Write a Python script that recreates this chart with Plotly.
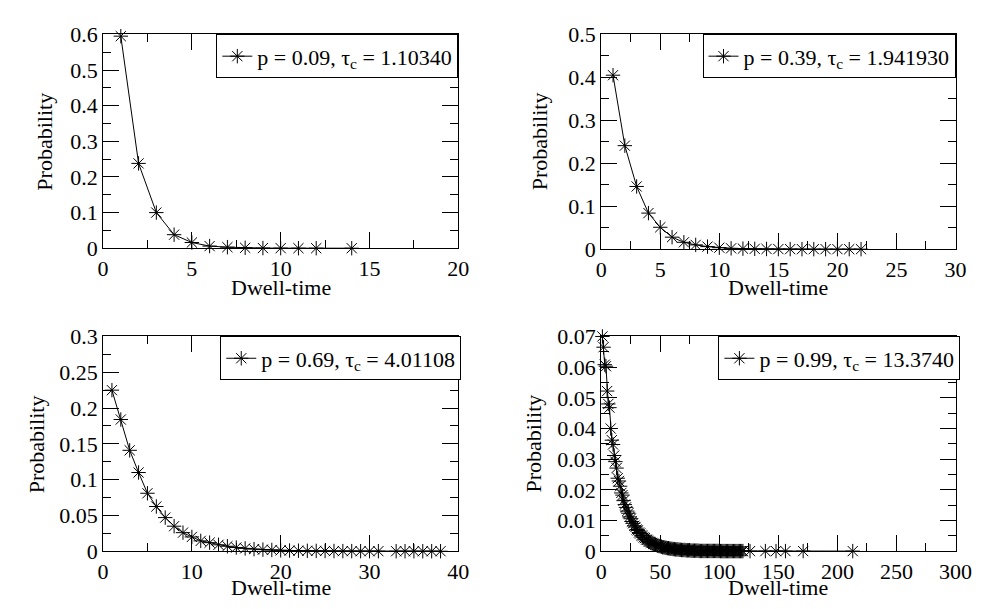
import plotly.graph_objects as go

# panel 1: p = 0.09
p1_x = [1, 2, 3, 4, 5, 6, 7, 8, 9, 10, 11, 12, 14]
p1_y = [0.595, 0.238, 0.100, 0.038, 0.016, 0.006, 0.003, 0.0012, 0.0005, 0.0002, 0.0001, 0.0001, 0.00005]

# panel 2: p = 0.39
p2_x = list(range(1, 23))
p2_y = [0.405, 0.241, 0.146, 0.084, 0.051, 0.028, 0.016, 0.010, 0.006, 0.0035, 0.002,
        0.0013, 0.0008, 0.0005, 0.0003, 0.0002, 0.0001, 0.0001, 0.0001, 0.00005, 0.00005, 0.00005]

# panel 3: p = 0.69
p3_x = list(range(1, 32)) + [33, 34, 35, 36, 37, 38]
p3_y = [0.225, 0.184, 0.141, 0.110, 0.081, 0.0625, 0.047, 0.035, 0.026, 0.020,
        0.0145, 0.012, 0.009, 0.007, 0.0052, 0.004, 0.003, 0.0023, 0.0018, 0.0013,
        0.001, 0.0008, 0.0006, 0.0005, 0.0004, 0.0003, 0.0002, 0.0002, 0.0001, 0.0001,
        0.0001, 0.00005, 0.00005, 0.00005, 0.00005, 0.00005, 0.00005]

# panel 4: p = 0.99
p4_x = list(range(1, 121)) + [126, 139, 148, 156, 171, 213]
p4_y = [0.0700, 0.0665, 0.0608, 0.0603, 0.0522, 0.0480, 0.0468, 0.0400, 0.0362, 0.0348,
        0.0312, 0.0292, 0.0271, 0.0238, 0.0229, 0.0212, 0.0190, 0.0183, 0.0165, 0.0152,
        0.0143, 0.0131, 0.0124, 0.0112, 0.0106, 0.0097, 0.0091, 0.0083, 0.0079, 0.0071,
        0.0068, 0.0061, 0.0058, 0.0052, 0.0050, 0.0045, 0.0043, 0.0038, 0.0037, 0.0033,
        0.0031, 0.0028, 0.0027, 0.0024, 0.0023, 0.0021, 0.0020, 0.0018, 0.0017, 0.0016,
        0.0015, 0.0013, 0.0013, 0.0012, 0.0011, 0.0010, 0.0010, 0.0009, 0.0008, 0.0008,
        0.0007, 0.0007, 0.0006, 0.0006, 0.0006, 0.0005, 0.0005, 0.0004, 0.0004, 0.0004,
        0.0004, 0.0003, 0.0003, 0.0003, 0.0003, 0.0002, 0.0002, 0.0002, 0.0002, 0.0002,
        0.0002, 0.0002, 0.0001, 0.0001, 0.0001, 0.0001, 0.0001, 0.0001, 0.0001, 0.0001,
        0.0001, 0.0001, 0.0001, 0.0001, 0.0001, 0.0001, 0.0001, 0.0001, 0.0001, 0.0001,
        0.00005, 0.00005, 0.00005, 0.00005, 0.00005, 0.00005, 0.00005, 0.00005, 0.00005, 0.00005,
        0.00005, 0.00005, 0.00005, 0.00005, 0.00005, 0.00005, 0.00005, 0.00005, 0.00005, 0.00005,
        0.00005, 0.00005, 0.00005, 0.00005, 0.00005, 0.00005]

labels = ["p = 0.09, τ<sub>c</sub> = 1.10340",
          "p = 0.39, τ<sub>c</sub> = 1.941930",
          "p = 0.69, τ<sub>c</sub> = 4.01108",
          "p = 0.99, τ<sub>c</sub> = 13.3740"]

FONT = "Liberation Serif"
W, H = 987, 609

# plot boxes in pixels: (left, right, top, bottom)
boxes = [(92, 455, 15, 238), (601, 963, 15, 239), (92, 455, 330, 554), (601, 963, 330, 554)]
xranges = [(0, 20, 5), (0, 30, 5), (0, 40, 10), (0, 300, 50)]
yranges = [(0, 0.6, 0.1), (0, 0.5, 0.1), (0, 0.3, 0.05), (0, 0.07, 0.01)]
legend_right = [455, 963, 458, 968]
# axis title positions in pixels: x-title baseline row, y-title column
xtitle_y = [279, 279, 592, 592]
ytitle_x = [32, 538, 24, 532]

data = [(p1_x, p1_y), (p2_x, p2_y), (p3_x, p3_y), (p4_x, p4_y)]

fig = go.Figure()
layout = dict(width=W, height=H, margin=dict(l=0, r=0, t=0, b=0),
              paper_bgcolor="white", plot_bgcolor="white")
annotations = []

for i, (xs, ys) in enumerate(data):
    n = "" if i == 0 else str(i + 1)
    fig.add_trace(go.Scatter(
        x=xs, y=ys, mode="lines+markers", name=labels[i], showlegend=True,
        xaxis="x" + n, yaxis="y" + n, legend="legend" + n, cliponaxis=False,
        line=dict(color="black", width=1),
        marker=dict(symbol="asterisk-open", size=12, color="black",
                    line=dict(color="black", width=1)),
    ))
    l, r, t, b = boxes[i]
    x0, x1, dx = xranges[i]
    y0, y1, dy = yranges[i]
    ax = dict(showline=True, linecolor="black", mirror="ticks", ticks="inside", ticklen=16,
              tickcolor="black", showgrid=False, zeroline=False,
              tickfont=dict(family=FONT, size=22, color="black"))
    layout["xaxis" + n] = dict(
        ax, domain=[l / W, r / W], anchor="y" + n, range=[x0, x1], dtick=dx, tick0=0,
        minor=dict(ticks="inside", ticklen=8, dtick=dx / 2),
    )
    layout["yaxis" + n] = dict(
        ax, domain=[1 - b / H, 1 - t / H], anchor="x" + n, range=[y0, y1], dtick=dy, tick0=0,
        minor=dict(ticks="inside", ticklen=8, dtick=dy / 2),
    )
    layout["legend" + n] = dict(
        x=legend_right[i] / W, xanchor="right", y=1 - t / H, yanchor="top",
        bordercolor="black", borderwidth=1,
        font=dict(family=FONT, size=22, color="black"),
    )
    annotations.append(dict(
        text="Dwell-time", xref="paper", yref="paper",
        x=(l + r) / 2 / W, y=1 - xtitle_y[i] / H, xanchor="center", yanchor="middle",
        showarrow=False, font=dict(family=FONT, size=22, color="black"),
    ))
    annotations.append(dict(
        text="Probability", xref="paper", yref="paper", textangle=-90,
        x=ytitle_x[i] / W, y=1 - (t + b) / 2 / H, xanchor="center", yanchor="middle",
        showarrow=False, font=dict(family=FONT, size=22, color="black"),
    ))

layout["annotations"] = annotations
fig.update_layout(**layout)
fig.write_html("out.html")
